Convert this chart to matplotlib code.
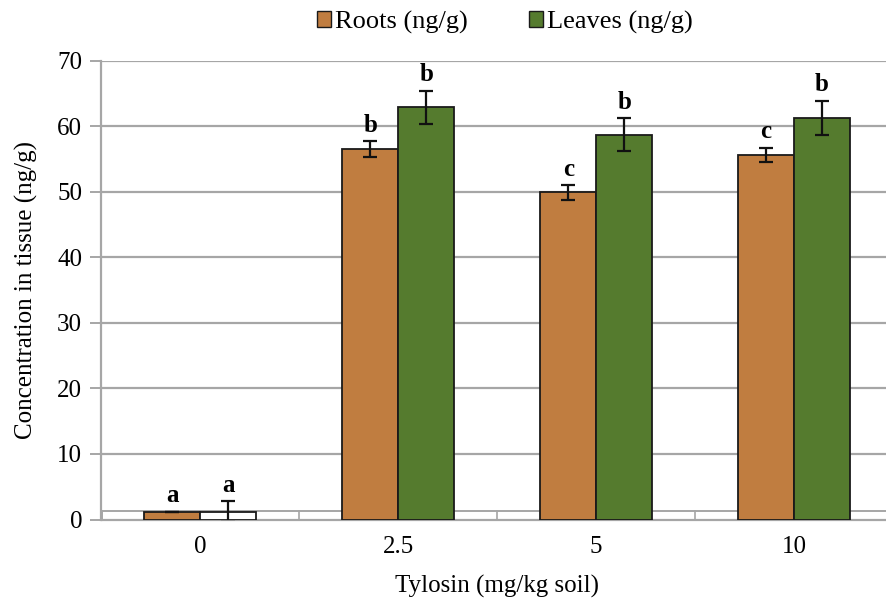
import matplotlib
matplotlib.use("Agg")
import matplotlib.pyplot as plt
import numpy as np
from matplotlib.patches import Rectangle, Patch

categories = ["0", "2.5", "5", "10"]
roots = [1.2, 56.5, 49.9, 55.6]
roots_err = [0.0, 1.2, 1.1, 1.1]
leaves = [1.2, 62.9, 58.7, 61.3]
leaves_err = [1.6, 2.5, 2.5, 2.6]
roots_letters = ["a", "b", "c", "c"]
leaves_letters = ["a", "b", "b", "b"]

plt.rcParams['font.family'] = ['Liberation Serif', 'DejaVu Serif']

fig = plt.figure(figsize=(8.87, 5.99), dpi=100)
ax = fig.add_axes([101.5/887, 1-519.5/599, (893-101.5)/887, (519.5-60.7)/599])

x = np.arange(len(categories))
w = 0.283
root_col = "#C07D40"
leaf_col = "#557B2E"

ax.set_xlim(-0.5, 3.5)
ax.set_ylim(0, 70)
ax.set_yticks(range(0, 71, 10))
ax.yaxis.grid(True, color="#A6A6A6", linewidth=1.6)
ax.set_axisbelow(True)

# floor strip
ax.add_patch(Rectangle((-0.5, 0), 4.0, 1.25, facecolor="white", edgecolor="#A6A6A6",
                       linewidth=1.4, zorder=1))
for b in [0.5, 1.5, 2.5]:
    ax.plot([b, b], [0, 1.25], color="#A6A6A6", linewidth=1.2, zorder=1)

leaf_faces = ["white" if v < 2 else leaf_col for v in leaves]
ax.bar(x - w/2, roots, w, color=root_col, edgecolor="#1a1a1a", linewidth=1.3, zorder=3)
ax.bar(x + w/2, leaves, w, color=leaf_faces, edgecolor="#1a1a1a", linewidth=1.3, zorder=3)
ax.errorbar(x - w/2, roots, yerr=roots_err, fmt="none", ecolor="#111111", elinewidth=1.6,
            capsize=5, capthick=1.6, zorder=4)
ax.errorbar(x + w/2, leaves, yerr=leaves_err, fmt="none", ecolor="#111111",
            elinewidth=1.6, capsize=5, capthick=1.6, zorder=4)

for i in range(len(categories)):
    ax.text(x[i] - w/2, roots[i] + roots_err[i] + 0.7, roots_letters[i], ha="center",
            va="bottom", fontsize=18, fontweight="bold")
    ax.text(x[i] + w/2, leaves[i] + leaves_err[i] + 0.7, leaves_letters[i], ha="center",
            va="bottom", fontsize=18, fontweight="bold")

ax.set_xticks(x)
ax.set_xticklabels(categories, fontsize=18)
ax.tick_params(axis="y", labelsize=18, length=8, color="#A6A6A6", width=1.4, pad=6)
ax.tick_params(axis="x", length=0, pad=12)
for s in ["top", "right"]:
    ax.spines[s].set_visible(False)
ax.spines["left"].set_color("#A6A6A6")
ax.spines["left"].set_linewidth(1.6)
ax.spines["bottom"].set_color("#A6A6A6")
ax.spines["bottom"].set_linewidth(1.6)

ax.set_xlabel("Tylosin (mg/kg soil)", fontsize=18, labelpad=12)
ax.set_ylabel("Concentration in tissue (ng/g)", fontsize=18, labelpad=14)

handles = [Patch(facecolor=root_col, edgecolor="#1a1a1a", label="Roots (ng/g)"),
           Patch(facecolor=leaf_col, edgecolor="#1a1a1a", label="Leaves (ng/g)")]
fig.legend(handles=handles, loc="center", bbox_to_anchor=(505/887, 1-22/599), ncol=2,
           frameon=False, fontsize=19, handlelength=0.55, handleheight=0.55,
           handletextpad=0.15, columnspacing=2.3)

fig.savefig("out.png", dpi=100)
